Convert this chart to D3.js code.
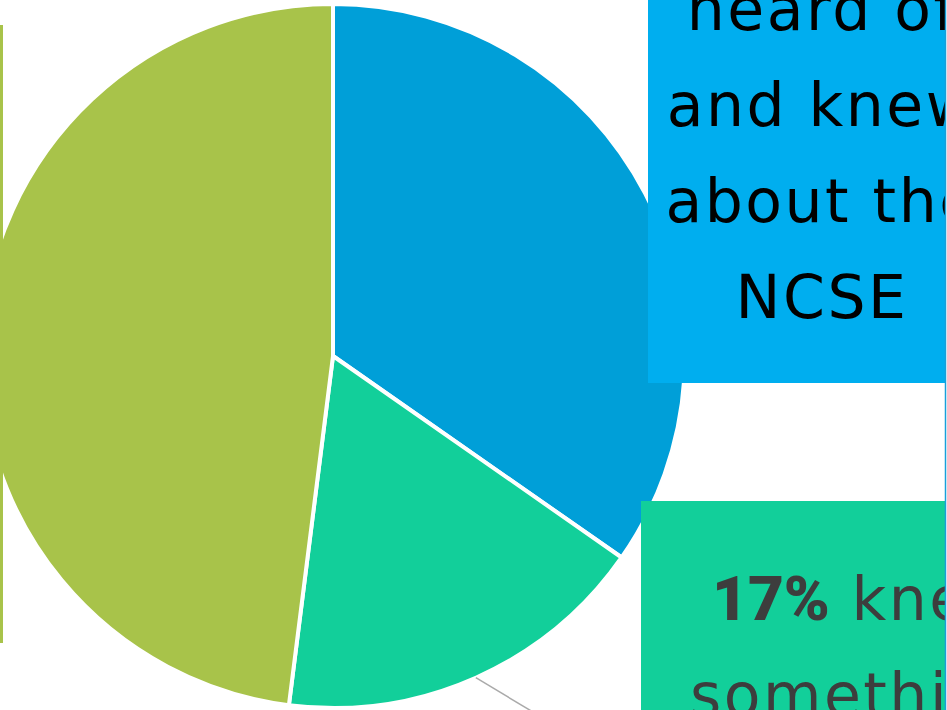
<!DOCTYPE html>
<html>
<head>
<meta charset="utf-8">
<script src="https://cdn.jsdelivr.net/npm/d3@7"></script>
<style>
    html, body { margin: 0; padding: 0; background: #fff; overflow: hidden; }
    svg { display: block; }
    .label { font-family: "DejaVu Sans", sans-serif; font-size: 60px; letter-spacing: 2.5px; }
    .pct { font-family: Roboto, sans-serif; font-weight: 900; font-size: 62px; letter-spacing: 0; }
</style>
</head>
<body>
<svg id="chart" width="947" height="710"></svg>
<script>
// share of respondents (percent)
const categories = ["heard of and knew about", "knew something", "had not heard of"];
const values = [34.7, 17.3, 48];
const colours = ["#009fd8", "#12cf9a", "#a8c34a"];

// label boxes
const blueLines = ["35% had", "heard of", "and knew", "about the", "NCSE"];
const tealLines = [["17%", " knew"], ["", "something"]];
const tealStarts = [712, 690];

const W = 947, H = 710;
const cx = 333, cy = 356, radius = 352;

const svg = d3.select("#chart");

svg.append("clipPath").attr("id", "frame")
    .append("rect").attr("x", 0).attr("y", 0).attr("width", 945).attr("height", H);

const g = svg.append("g").attr("clip-path", "url(#frame)");

const pie = d3.pie().sort(null).value(d => d);
const arc = d3.arc().innerRadius(0).outerRadius(radius);
const arcs = pie(values);

const slices = g.append("g").attr("transform", `translate(${cx},${cy})`);

slices.selectAll("path.slice")
    .data(arcs)
    .enter().append("path")
    .attr("class", "slice")
    .attr("d", arc)
    .attr("fill", (d, i) => colours[i])
    .attr("stroke", "#fff")
    .attr("stroke-width", 4)
    .attr("stroke-linejoin", "round");

// leader line from the middle of the small slice
let mid = (arcs[1].startAngle + arcs[1].endAngle) / 2;
let p0 = [Math.sin(mid) * radius, -Math.cos(mid) * radius];
slices.append("line")
    .attr("x1", p0[0]).attr("y1", p0[1])
    .attr("x2", p0[0] + 100).attr("y2", p0[1] + 60)
    .attr("stroke", "#aaa")
    .attr("stroke-width", 1.5);

// left box (mostly off the page)
g.append("rect")
    .attr("x", -300).attr("y", 25).attr("width", 303).attr("height", 618)
    .attr("fill", colours[2]);

// blue box
g.append("rect")
    .attr("x", 648).attr("y", -60).attr("width", 340).attr("height", 443)
    .attr("fill", "#00aeef");

let bt = g.append("text")
    .attr("class", "label")
    .attr("text-anchor", "middle")
    .attr("fill", "#000");
blueLines.forEach((s, i) => {
    bt.append("tspan").attr("x", 822).attr("y", 318 - (blueLines.length - 1 - i) * 96).text(s);
});

// teal box
g.append("rect")
    .attr("x", 641).attr("y", 501).attr("width", 420).attr("height", 300)
    .attr("fill", colours[1]);

let tt = g.append("text")
    .attr("class", "label")
    .attr("fill", "#3d3d3d");
tealLines.forEach((ln, i) => {
    let row = tt.append("tspan").attr("x", tealStarts[i]).attr("y", 620 + i * 96);
    if (ln[0]) row.append("tspan").attr("class", "pct").text(ln[0]);
    row.append("tspan").text(ln[1]);
});

// right frame edge
svg.append("line")
    .attr("x1", 945.5).attr("y1", 0).attr("x2", 945.5).attr("y2", H)
    .attr("stroke", "#1a9fd9")
    .attr("stroke-width", 1.5);
</script>
</body>
</html>
